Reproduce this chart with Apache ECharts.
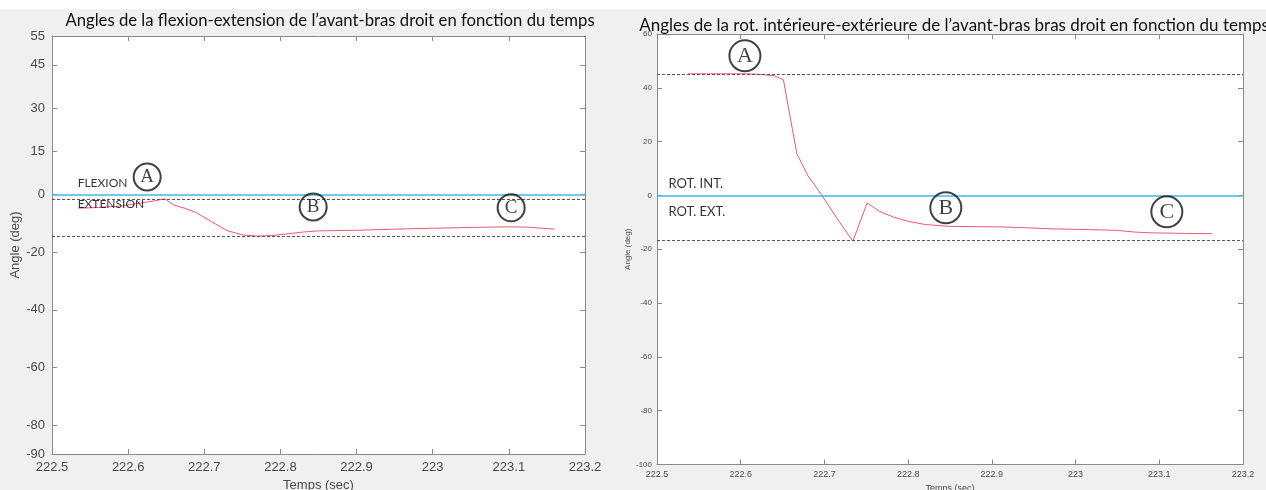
<!DOCTYPE html>
<html>
<head>
<meta charset="utf-8">
<script src="https://cdn.jsdelivr.net/npm/echarts@6/dist/echarts.min.js"></script>
<style>
  html, body { margin: 0; padding: 0; background: #f0f0f0; }
  #chart { width: 1266px; height: 490px; }
</style>
</head>
<body>
<div id="chart"></div>
<script>
// Forearm flexion-extension (left panel)
const flexTime  = [222.535, 222.55, 222.57, 222.59, 222.61, 222.63, 222.648, 222.66, 222.675, 222.69, 222.71, 222.73, 222.75, 222.77, 222.79, 222.81, 222.83, 222.85, 222.9, 222.95, 223.0, 223.05, 223.1, 223.125, 223.16];
const flexAngle = [-4.7, -4.6, -4.3, -4.0, -3.2, -2.4, -1.5, -3.6, -4.8, -6.3, -9.5, -12.5, -14.0, -14.4, -14.2, -13.6, -13.0, -12.6, -12.4, -12.0, -11.7, -11.4, -11.2, -11.3, -12.0];
const flexRefSolid  = [0];
const flexRefDashed = [-1.5, -14.3];
const flexTicks = [55, 45, 30, 15, 0, -20, -40, -60, -80, -90];

// Forearm internal-external rotation (right panel)
const rotTime  = [222.537, 222.56, 222.58, 222.60, 222.623, 222.64, 222.651, 222.667, 222.68, 222.696, 222.715, 222.734, 222.751, 222.765, 222.782, 222.80, 222.82, 222.85, 222.88, 222.91, 222.94, 222.97, 223.0, 223.03, 223.05, 223.07, 223.09, 223.11, 223.13, 223.163];
const rotAngle = [45.2, 45.2, 45.2, 45.2, 45.0, 44.5, 43.0, 15.6, 7.5, 0.5, -8.5, -17.0, -2.8, -5.8, -8.0, -9.6, -10.8, -11.5, -11.6, -11.7, -12.0, -12.4, -12.6, -12.8, -13.0, -13.6, -13.9, -14.0, -14.1, -14.2];
const rotRefSolid  = [0];
const rotRefDashed = [45, -16.8];
const rotTicks = [60, 40, 20, 0, -20, -40, -60, -80, -100];

const timeTicks = [222.5, 222.6, 222.7, 222.8, 222.9, 223.0, 223.1, 223.2];

// Text annotations: [time, angle, text]
const flexNotes = [[222.533, 4.0, 'FLEXION'], [222.533, -3.3, 'EXTENSION']];
const flexMarks = [[222.625, 6.1, 'A'], [222.843, -4.3, 'B'], [223.103, -4.6, 'C']];
const rotNotes  = [[222.513, 4.3, 'ROT. INT.'], [222.513, -6.1, 'ROT. EXT.']];
const rotMarks  = [[222.605, 51.9, 'A'], [222.845, -4.6, 'B'], [223.109, -6.1, 'C']];

const axisGray = '#8a8a8a';
const labelGray = '#4a4a4a';
const sans = 'Liberation Sans';
const fmtTime = v => String(Math.round(v * 10) / 10);

function xAxes(grid, big) {
  const fs = big ? 13 : 9;
  return [
    { gridIndex: grid, type: 'value', min: 222.5, max: 223.2, position: 'bottom',
      axisLine: { show: true, onZero: false, lineStyle: { color: axisGray } },
      axisTick: { show: true, inside: true, length: 5, customValues: timeTicks, lineStyle: { color: axisGray } },
      axisLabel: { show: true, customValues: timeTicks, formatter: fmtTime, color: labelGray, fontFamily: sans, fontSize: fs, margin: big ? 7 : 6 },
      splitLine: { show: false },
      name: 'Temps (sec)', nameLocation: 'middle', nameGap: big ? 22 : 17,
      nameTextStyle: { color: labelGray, fontFamily: sans, fontSize: big ? 13 : 9 } },
    { gridIndex: grid, type: 'value', min: 222.5, max: 223.2, position: 'top',
      axisLine: { show: true, onZero: false, lineStyle: { color: axisGray } },
      axisTick: { show: true, inside: true, length: 5, customValues: timeTicks, lineStyle: { color: axisGray } },
      axisLabel: { show: false }, splitLine: { show: false } }
  ];
}

function yAxes(grid, min, max, ticks, big) {
  return [
    { gridIndex: grid, type: 'value', min: min, max: max, position: 'left',
      axisLine: { show: true, onZero: false, lineStyle: { color: axisGray } },
      axisTick: { show: true, inside: true, length: 5, customValues: ticks, lineStyle: { color: axisGray } },
      axisLabel: { show: true, customValues: ticks, color: labelGray, fontFamily: sans, fontSize: big ? 13 : 8, margin: big ? 7 : 5 },
      splitLine: { show: false },
      name: 'Angle (deg)', nameLocation: 'middle', nameRotate: 90, nameGap: big ? 28 : 13,
      nameTextStyle: { color: labelGray, fontFamily: sans, fontSize: big ? 13 : 8 } },
    { gridIndex: grid, type: 'value', min: min, max: max, position: 'right',
      axisLine: { show: true, onZero: false, lineStyle: { color: axisGray } },
      axisTick: { show: true, inside: true, length: 5, customValues: ticks, lineStyle: { color: axisGray } },
      axisLabel: { show: false }, splitLine: { show: false } }
  ];
}

function refLines(solid, dashed) {
  return {
    silent: true, symbol: 'none', label: { show: false }, animation: false,
    data: solid.map(v => ({ yAxis: v, lineStyle: { color: '#3fb8ea', width: 1.5, type: 'solid' } }))
      .concat(dashed.map(v => ({ yAxis: v, lineStyle: { color: '#555', width: 1, type: [3, 2] } })))
  };
}

function curve(xi, yi, t, a, solid, dashed) {
  return {
    type: 'line', xAxisIndex: xi, yAxisIndex: yi, data: t.map((v, i) => [v, a[i]]),
    showSymbol: false, smooth: false, lineStyle: { color: '#ec5a6e', width: 1 },
    markLine: refLines(solid, dashed), animation: false, z: 3
  };
}

function notes(xi, yi, list, fs) {
  return {
    type: 'scatter', xAxisIndex: xi, yAxisIndex: yi, data: list.map(d => [d[0], d[1], d[2]]),
    symbolSize: 1, itemStyle: { color: 'rgba(0,0,0,0)' }, silent: true, animation: false, z: 5,
    label: { show: true, position: 'right', distance: 0, formatter: p => p.data[2],
      color: '#000', fontFamily: 'Lato', fontSize: fs }
  };
}

function circled(xi, yi, list, size) {
  return {
    type: 'scatter', xAxisIndex: xi, yAxisIndex: yi, data: list.map(d => [d[0], d[1], d[2]]),
    symbol: 'circle', symbolSize: size, silent: true, animation: false, z: 5,
    itemStyle: { color: 'rgba(255,255,255,0)', borderColor: '#111', borderWidth: 2 },
    label: { show: true, position: 'inside', formatter: p => p.data[2],
      color: '#111', fontFamily: 'Liberation Serif', fontSize: Math.round(size * 0.72) }
  };
}

const chart = echarts.init(document.getElementById('chart'), null, { renderer: 'canvas' });
chart.setOption({
  backgroundColor: '#f0f0f0',
  animation: false,
  graphic: [{ type: 'rect', shape: { x: 0, y: 0, width: 1266, height: 9 }, style: { fill: '#ffffff' }, silent: true }],
  title: [
    { text: 'Angles de la flexion-extension de l’avant-bras droit en fonction du temps',
      left: 325, top: 7, textAlign: 'center',
      textStyle: { fontFamily: 'Lato', fontWeight: 'normal', fontSize: 16.7, color: '#111' } },
    { text: 'Angles de la rot. intérieure-extérieure de l’avant-bras bras droit en fonction du temps',
      left: 949, top: 12, textAlign: 'center',
      textStyle: { fontFamily: 'Lato', fontWeight: 'normal', fontSize: 17, color: '#111' } }
  ],
  grid: [
    { left: 52, right: 681, top: 36, bottom: 36, outerBoundsMode: 'none', containLabel: false,
      show: true, backgroundColor: '#ffffff', borderWidth: 0 },
    { left: 657, right: 23, top: 34, bottom: 25.5, outerBoundsMode: 'none', containLabel: false,
      show: true, backgroundColor: '#ffffff', borderWidth: 0 }
  ],
  xAxis: xAxes(0, true).concat(xAxes(1, false)),
  yAxis: yAxes(0, -90, 55, flexTicks, true).concat(yAxes(1, -100, 60, rotTicks, false)),
  series: [
    curve(0, 0, flexTime, flexAngle, flexRefSolid, flexRefDashed),
    notes(0, 0, flexNotes, 12),
    circled(0, 0, flexMarks, 27),
    curve(2, 2, rotTime, rotAngle, rotRefSolid, rotRefDashed),
    notes(2, 2, rotNotes, 13),
    circled(2, 2, rotMarks, 31)
  ]
});
</script>
</body>
</html>
